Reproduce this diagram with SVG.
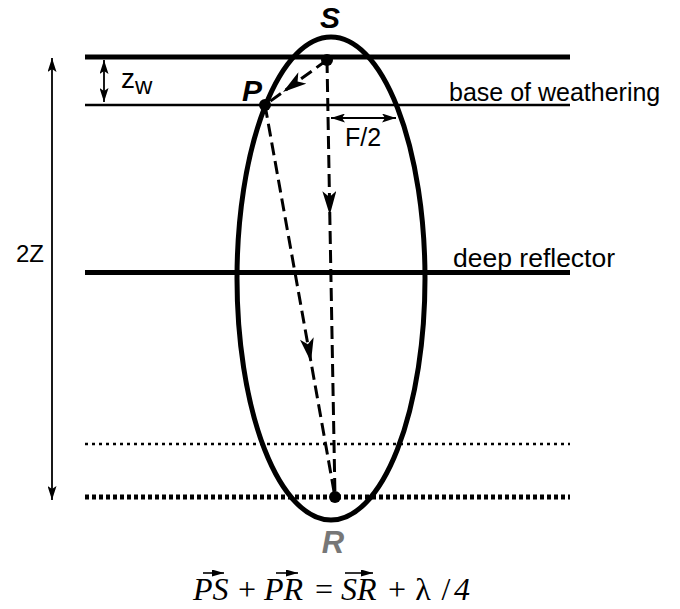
<svg xmlns="http://www.w3.org/2000/svg" width="680" height="609" viewBox="0 0 680 609">
<style>
.thick{stroke:#000;stroke-width:5;fill:none}
.thin{stroke:#000;stroke-width:2.6;fill:none}
.ray{stroke:#000;stroke-width:3;fill:none;stroke-dasharray:13 6}
.dim{stroke:#000;stroke-width:1.8;fill:none}
.lab{font-family:"Liberation Sans",Arial,sans-serif;fill:#000}
.pt{font-family:"Liberation Sans",Arial,sans-serif;font-weight:bold;font-style:italic}
.eq{font-family:"Liberation Serif","Times New Roman",serif;font-size:32px;fill:#000}
.it{font-style:italic}
</style>
<defs>
<marker id="ah" viewBox="0 0 24 14" refX="24" refY="7" markerWidth="24" markerHeight="14" markerUnits="userSpaceOnUse" orient="auto">
<path d="M0,0 L24,7 L0,14 L6,7 Z" fill="#000"/>
</marker>
<marker id="sa" viewBox="0 0 14 9" refX="14" refY="4.5" markerWidth="14" markerHeight="9" markerUnits="userSpaceOnUse" orient="auto">
<path d="M0,0 L14,4.5 L0,9 L3,4.5 Z" fill="#000"/>
</marker>
<marker id="sas" viewBox="0 0 14 9" refX="0" refY="4.5" markerWidth="14" markerHeight="9" markerUnits="userSpaceOnUse" orient="auto">
<path d="M14,0 L0,4.5 L14,9 L11,4.5 Z" fill="#000"/>
</marker>
<marker id="va" viewBox="0 0 12 7" refX="12" refY="3.5" markerWidth="12" markerHeight="7" markerUnits="userSpaceOnUse" orient="auto">
<path d="M0,0 L12,3.5 L0,7 Z" fill="#000"/>
</marker>
</defs>

<g id="layers">
<line class="thick" x1="85" y1="57" x2="570" y2="57"/>
<line class="thin" x1="85" y1="105" x2="570" y2="105"/>
<line class="thick" x1="85" y1="272.5" x2="570" y2="272.5"/>
<line x1="85" y1="444" x2="570" y2="444" stroke="#000" stroke-width="2.5" stroke-dasharray="3 4"/>
<line x1="85" y1="497" x2="570" y2="497" stroke="#000" stroke-width="5" stroke-dasharray="4 3"/>
</g>

<g id="ellipse">
<ellipse cx="331" cy="278.5" rx="94" ry="241.5" fill="none" stroke="#000" stroke-width="5"/>
</g>

<g id="connectors">
<path class="ray" d="M327,60 L283,92 L265,105" stroke-width="4" marker-mid="url(#ah)"/>
<path class="ray" d="M327,60 L329.8,215 L335,497" marker-mid="url(#ah)"/>
<path class="ray" d="M265,105 L311,362 L335,497" marker-mid="url(#ah)"/>
<line class="dim" x1="104" y1="60" x2="104" y2="102" marker-start="url(#sas)" marker-end="url(#sa)"/>
<line class="dim" x1="52" y1="58" x2="52" y2="500" marker-start="url(#sas)" marker-end="url(#sa)"/>
<line class="dim" x1="331" y1="118" x2="396" y2="118" marker-start="url(#sas)" marker-end="url(#sa)"/>
</g>

<g id="node-S">
<circle cx="327" cy="60" r="6" fill="#000"/>
<text class="pt" x="330" y="28" font-size="30" text-anchor="middle">S</text>
</g>
<g id="node-P">
<circle cx="265" cy="105" r="6" fill="#000"/>
<text class="pt" x="242" y="101" font-size="30">P</text>
</g>
<g id="node-R">
<circle cx="335" cy="497" r="6" fill="#000"/>
<text class="pt" x="333" y="553" font-size="31" text-anchor="middle" fill="#777">R</text>
</g>

<g id="labels">
<text class="lab" x="121" y="88" font-size="28">z<tspan font-size="24" dy="6">w</tspan></text>
<text class="lab" x="449" y="101" font-size="25">base of weathering</text>
<text class="lab" x="345" y="146" font-size="25">F/2</text>
<text class="lab" x="453" y="267" font-size="26.5">deep reflector</text>
<text class="lab" x="44" y="262" font-size="24" text-anchor="end">2Z</text>
</g>

<g id="equation">
<text class="eq it" x="193" y="600">PS</text>
<text class="eq" x="247" y="600" text-anchor="middle">+</text>
<text class="eq it" x="264" y="600">PR</text>
<text class="eq" x="324" y="600" text-anchor="middle">=</text>
<text class="eq it" x="341" y="600">SR</text>
<text class="eq" x="397" y="600" text-anchor="middle">+</text>
<text class="eq" x="423" y="600" text-anchor="middle">λ</text>
<text class="eq" x="446" y="600" text-anchor="middle">/</text>
<text class="eq it" x="462" y="600" text-anchor="middle">4</text>
<line x1="203" y1="573" x2="224" y2="573" stroke="#000" stroke-width="1.6" marker-end="url(#va)"/>
<line x1="276" y1="573" x2="298" y2="573" stroke="#000" stroke-width="1.6" marker-end="url(#va)"/>
<line x1="345" y1="573" x2="373" y2="573" stroke="#000" stroke-width="1.6" marker-end="url(#va)"/>
</g>
</svg>
